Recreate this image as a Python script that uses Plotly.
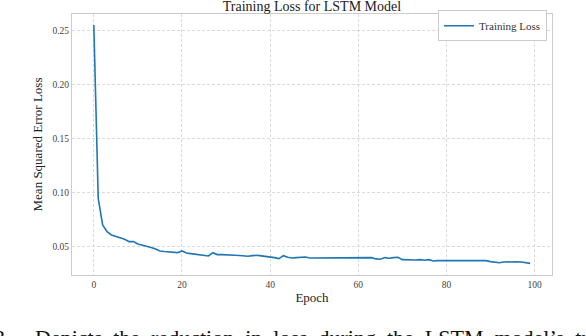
import plotly.graph_objects as go

epochs = list(range(100))
train_loss = [
    0.2549, 0.0944, 0.0697, 0.0635, 0.0605, 0.0590, 0.0582, 0.0565, 0.0543, 0.0543,
    0.0521, 0.0512, 0.0500, 0.0488, 0.0475, 0.0457, 0.0451, 0.0448, 0.0441, 0.0441,
    0.0457, 0.0438, 0.0432, 0.0426, 0.0426, 0.0420, 0.0410, 0.0441, 0.0423, 0.0423,
    0.0423, 0.0417, 0.0417, 0.0414, 0.0410, 0.0408, 0.0413, 0.0417, 0.0411, 0.0407,
    0.0404, 0.0395, 0.0386, 0.0413, 0.0398, 0.0392, 0.0395, 0.0401, 0.0401, 0.0392,
    0.0392, 0.0390, 0.0392, 0.0391, 0.0390, 0.0392, 0.0390, 0.0391, 0.0390, 0.0392,
    0.0391, 0.0392, 0.0389, 0.0395, 0.0383, 0.0380, 0.0395, 0.0389, 0.0395, 0.0398,
    0.0376, 0.0373, 0.0373, 0.0373, 0.0376, 0.0370, 0.0376, 0.0364, 0.0367, 0.0367,
    0.0364, 0.0364, 0.0367, 0.0364, 0.0364, 0.0360, 0.0360, 0.0360, 0.0360, 0.0367,
    0.0358, 0.0354, 0.0348, 0.0354, 0.0357, 0.0354, 0.0357, 0.0354, 0.0351, 0.0342,
]
x_ticks = [0, 20, 40, 60, 80, 100]
y_ticks = [0.05, 0.10, 0.15, 0.20, 0.25]

SERIF = "Liberation Serif, Times New Roman, DejaVu Serif, serif"
LINE_BLUE = "#1f77b4"
GRID = "#dadada"
FRAME = "#cccccc"

fig = go.Figure()
fig.add_trace(
    go.Scatter(
        x=epochs,
        y=train_loss,
        mode="lines",
        name="Training Loss",
        line={"color": LINE_BLUE, "width": 1.6},
    )
)

# caption of the paper figure, cut by the bottom edge
fig.add_annotation(
    text="3.",
    xref="paper", yref="paper",
    x=(13 - 72) / 480, y=(275 - 323) / 261,
    xanchor="right", yanchor="top",
    showarrow=False,
    font={"family": SERIF, "size": 22, "color": "#111111"},
)
fig.add_annotation(
    text="Depicts  the  reduction  in  loss  during  the  LSTM  model’s  training",
    xref="paper", yref="paper",
    x=(33 - 72) / 480, y=(275 - 323) / 261,
    xanchor="left", yanchor="top",
    showarrow=False,
    font={"family": SERIF, "size": 22, "color": "#111111"},
)

fig.update_layout(
    width=586,
    height=336,
    margin=dict(l=72, r=34, t=14, b=61, autoexpand=False),
    plot_bgcolor="white",
    paper_bgcolor="white",
    font={"family": SERIF, "color": "#222222", "size": 11},
    title={
        "text": "Training Loss for LSTM Model",
        "x": (312 / 586),
        "xanchor": "center",
        "y": 1 - 6 / 336,
        "yanchor": "middle",
        "font": {"family": SERIF, "size": 14, "color": "#222222"},
    },
    showlegend=True,
    legend={
        "x": (547 - 72) / 480,
        "y": (275 - 25.8) / 261,
        "xanchor": "right",
        "yanchor": "middle",
        "bordercolor": FRAME,
        "borderwidth": 1,
        "bgcolor": "white",
        "itemwidth": 30,
        "font": {"family": SERIF, "size": 11, "color": "#333333"},
    },
)
fig.update_xaxes(
    range=[-4.95, 103.95],
    tickmode="array",
    tickvals=x_ticks,
    ticktext=[str(v) for v in x_ticks],
    tickfont={"family": SERIF, "size": 9.5, "color": "#444444"},
    showgrid=True,
    gridcolor=GRID,
    griddash="3px,2px",
    gridwidth=1,
    zeroline=False,
    showline=True,
    mirror=True,
    linecolor=FRAME,
    linewidth=1.2,
    ticks="",
    automargin=False,
    title={"text": "Epoch", "font": {"family": SERIF, "size": 13, "color": "#222222"}, "standoff": 4},
)
fig.update_yaxes(
    range=[0.0234, 0.2651],
    tickmode="array",
    tickvals=y_ticks,
    ticktext=[f"{v:.2f}" for v in y_ticks],
    tickfont={"family": SERIF, "size": 9.5, "color": "#444444"},
    showgrid=True,
    gridcolor=GRID,
    griddash="3px,2px",
    gridwidth=1,
    zeroline=False,
    showline=True,
    mirror=True,
    linecolor=FRAME,
    linewidth=1.2,
    ticks="",
    automargin=False,
    title={"text": "Mean Squared Error Loss", "font": {"family": SERIF, "size": 13, "color": "#222222"}, "standoff": 6},
)

fig.write_html(
    "out.html",
    config={"displayModeBar": False},
    post_script="document.body.style.margin='0';document.body.style.padding='0';",
)
